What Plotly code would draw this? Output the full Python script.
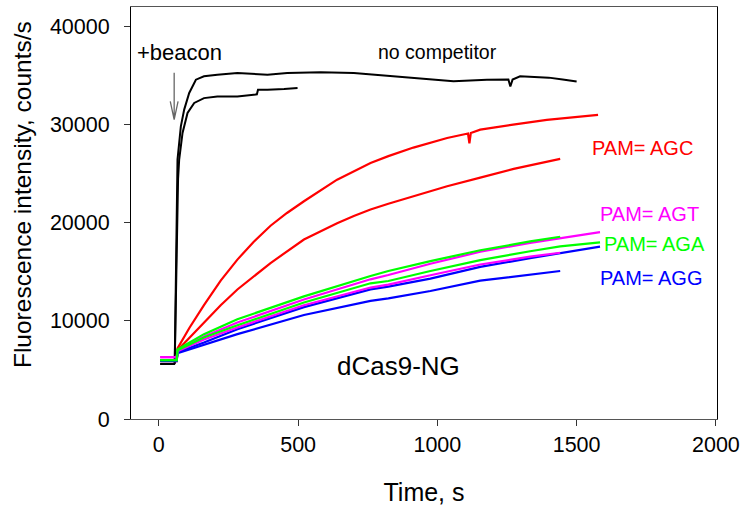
import plotly.graph_objects as go

# ---- data (time in s, intensity in counts/s) ----
t_black1 = [5, 55, 57, 60, 63, 67, 79, 91, 109, 133, 162, 210, 282, 390, 461, 581, 700, 820, 939, 1058, 1178, 1255, 1262, 1270, 1297, 1400, 1450, 1500]
y_black1 = [5600, 5600, 5700, 12000, 20000, 26450, 29840, 31540, 33240, 34590, 34930, 35100, 35270, 35100, 35270, 35340, 35270, 34990, 34650, 34420, 34590, 34600, 33900, 34600, 34930, 34800, 34600, 34400]

t_black2 = [5, 55, 57, 61, 65, 69, 73, 85, 103, 127, 162, 210, 282, 340, 352, 356, 390, 450, 498]
y_black2 = [5600, 5600, 5700, 12000, 20000, 24500, 26450, 29160, 31200, 32220, 32710, 32880, 32880, 33050, 33100, 33570, 33570, 33650, 33750]

t_red1 = [5, 64, 67, 110, 162, 222, 282, 340, 401, 460, 521, 640, 760, 824, 914, 1035, 1110, 1115, 1120, 1154, 1272, 1393, 1577]
y_red1 = [6000, 6000, 7200, 9300, 11600, 14100, 16250, 18050, 19700, 21000, 22200, 24400, 26100, 26800, 27670, 28650, 29100, 28100, 29150, 29500, 30000, 30500, 31000]

t_red2 = [5, 64, 67, 162, 222, 282, 401, 521, 580, 640, 700, 760, 824, 914, 1035, 1154, 1274, 1441]
y_red2 = [5900, 5900, 7000, 9800, 11600, 13200, 15900, 18300, 19150, 19950, 20700, 21350, 21950, 22720, 23730, 24600, 25500, 26520]

t_long = [5, 64, 67, 162, 282, 521, 760, 824, 975, 1154, 1333, 1441, 1584]
t_short = [5, 64, 67, 162, 282, 521, 760, 824, 975, 1154, 1333, 1441]

y_mag1 = [6300, 6300, 7000, 8410, 9840, 12180, 14240, 14680, 15830, 17050, 17950, 18450, 19050]
y_green2 = [6000, 6000, 7000, 8300, 9560, 11870, 13835, 14070, 15090, 16200, 17100, 17600, 18000]
y_blue1 = [6000, 6000, 6800, 7800, 9155, 11400, 13220, 13500, 14310, 15500, 16400, 16900, 17570]

y_green1 = [6000, 6000, 7100, 8650, 10170, 12500, 14580, 15090, 16100, 17200, 18100, 18580]
y_mag2 = [6300, 6300, 6900, 8100, 9330, 11600, 13400, 13700, 14650, 15750, 16550, 16950]
y_blue2 = [5900, 5900, 6700, 7530, 8650, 10600, 12040, 12300, 13050, 14100, 14750, 15090]

x_ticks = [0, 500, 1000, 1500, 2000]
x_tick_text = ["0", "500", "1000", "1500", "2000"]
y_ticks = [0, 10000, 20000, 30000, 40000]
y_tick_text = ["0", "10000", "20000", "30000", "40000"]

FONT = "Arial, Liberation Sans, sans-serif"

fig = go.Figure()

def add(t, y, color, w=2.2):
    fig.add_trace(go.Scatter(x=t, y=y, mode="lines",
                             line=dict(color=color, width=w),
                             showlegend=False, hoverinfo="skip"))

add(t_black1, y_black1, "black", 2)
add(t_black2, y_black2, "black", 2)
add(t_red1, y_red1, "#ff0000")
add(t_red2, y_red2, "#ff0000")
add(t_long, y_blue1, "#0000ff")
add(t_short, y_blue2, "#0000ff")
add(t_long, y_mag1, "#ff00ff")
add(t_short, y_mag2, "#ff00ff")
add(t_short, y_green1, "#00ff00")
add(t_long, y_green2, "#00ff00")

labels = [
    ("+beacon", 75, 37330, "black", 22),
    ("no competitor", 1000, 37440, "black", 19.5),
    ("PAM= AGC", 1738, 27670, "#ff0000", 20),
    ("PAM= AGT", 1762, 20850, "#ff00ff", 20),
    ("PAM= AGA", 1781, 17850, "#00ff00", 20),
    ("PAM= AGG", 1767, 14415, "#0000ff", 20),
    ("dCas9-NG", 860, 5390, "black", 26),
]
for txt, x, y, c, s in labels:
    fig.add_annotation(x=x, y=y, text=txt, showarrow=False,
                       xanchor="center", yanchor="middle",
                       font=dict(family=FONT, size=s, color=c))

# y-axis title (placed as in the reference, slightly above centre)
fig.add_annotation(xref="paper", yref="paper", x=-0.184, y=0.544,
                   text="Fluorescence intensity, counts/s", textangle=-90,
                   showarrow=False, xanchor="center", yanchor="middle",
                   font=dict(family=FONT, size=24.5, color="black"))

# arrow below "+beacon"
ax_x, ax_top, ax_tip, ax_base, ax_dx = 55, 35300, 30520, 32380, 14
fig.add_shape(type="path",
              path=f"M {ax_x},{ax_top} L {ax_x},{ax_tip} M {ax_x-ax_dx},{ax_base} L {ax_x},{ax_tip} L {ax_x+ax_dx},{ax_base}",
              line=dict(color="#666666", width=1.3))

fig.update_layout(
    width=743, height=506,
    margin=dict(l=131, r=26, t=7, b=87),
    paper_bgcolor="white", plot_bgcolor="white",
    font=dict(family=FONT, color="black"),
)
fig.update_xaxes(range=[-100, 2004], tickvals=x_ticks, ticktext=x_tick_text,
                 ticks="outside", ticklen=6, automargin=False,
                 tickcolor="#333", linecolor="#555", linewidth=1, mirror=True,
                 showgrid=False, zeroline=False,
                 tickfont=dict(family=FONT, size=21.5),
                 title=dict(text="Time, s", font=dict(family=FONT, size=25), standoff=28))
fig.update_yaxes(range=[0, 42000], tickvals=y_ticks, ticktext=y_tick_text,
                 ticks="outside", ticklen=6, automargin=False,
                 tickcolor="#333", linecolor="black", linewidth=1, mirror=True,
                 showgrid=False, zeroline=False, ticklabelstandoff=10,
                 tickfont=dict(family=FONT, size=21.5))

fig.write_html("out.html", config={"displayModeBar": False},
               post_script="document.body.style.margin='0';")
